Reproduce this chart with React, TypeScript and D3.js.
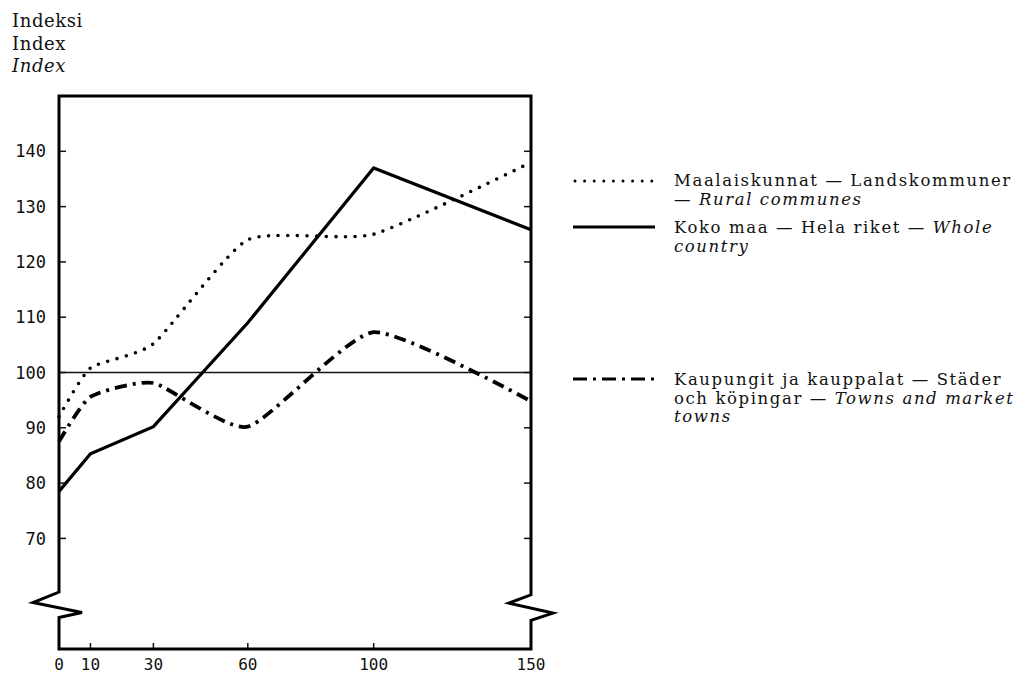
import React from 'react';
import * as d3 from 'd3';

// x: tick positions on the bottom axis, y: index values
const X_VALUES = [0, 10, 30, 60, 100, 150];
const Y_TICKS = [70, 80, 90, 100, 110, 120, 130, 140];
const RURAL = [92, 100.8, 105.2, 124, 125, 138];
const WHOLE = [78.5, 85.3, 90.2, 109, 137, 125.8];
const TOWNS = [87.5, 95.6, 98.1, 90.2, 107.3, 94.8];
const TITLE_LINES = ['Indeksi', 'Index', 'Index'];

type Seg = { t: string; i?: boolean };
const LEGEND_RURAL: Seg[][] = [
  [{ t: 'Maalaiskunnat — Landskommuner' }],
  [{ t: '— ' }, { t: 'Rural communes', i: true }],
];
const LEGEND_WHOLE: Seg[][] = [
  [{ t: 'Koko maa — Hela riket — ' }, { t: 'Whole', i: true }],
  [{ t: 'country', i: true }],
];
const LEGEND_TOWNS: Seg[][] = [
  [{ t: 'Kaupungit ja kauppalat — Städer' }],
  [{ t: 'och köpingar — ' }, { t: 'Towns and market', i: true }],
  [{ t: 'towns', i: true }],
];

const W = 1025;
const H = 674;
const SERIF = '"DejaVu Serif", serif';
const MONO = '"DejaVu Sans Mono", monospace';

export default function App() {
  const x = d3.scaleLinear().domain([0, 150]).range([59, 531]);
  const y = d3.scaleLinear().domain([50, 150]).range([649, 96]);

  const smooth = d3.line<number>()
    .x((_, i) => x(X_VALUES[i]))
    .y(d => y(d))
    .curve(d3.curveCardinal.tension(0.45));
  const straight = d3.line<number>()
    .x((_, i) => x(X_VALUES[i]))
    .y(d => y(d));

  // frame with axis-break zigzags
  const x0 = x(0), x1 = x(150);
  const p = d3.path();
  p.moveTo(x0, y(150));
  p.lineTo(x0, y(60.3));
  p.lineTo(x0 - 26, y(58.4));
  p.lineTo(x0 + 23, y(56.6));
  p.lineTo(x0, y(55.7));
  p.lineTo(x0, y(50));
  p.lineTo(x1, y(50));
  p.lineTo(x1, y(55.2));
  p.lineTo(x1 + 22, y(56.5));
  p.lineTo(x1 - 22, y(58.3));
  p.lineTo(x1, y(59.8));
  p.lineTo(x1, y(150));
  p.closePath();

  const legendX = 573;
  const textX = 674;
  const lineH = 18.5;

  const legendText = (lines: Seg[][], baseY: number) => (
    <text x={textX} y={baseY} fontFamily={SERIF} fontSize={16.5} letterSpacing={1.6} fill="#111">
      {lines.map((segs, li) => (
        <tspan key={li} x={textX} y={baseY + li * lineH}>
          {segs.map((s, si) => (
            <tspan key={si} fontStyle={s.i ? 'italic' : 'normal'}>{s.t}</tspan>
          ))}
        </tspan>
      ))}
    </text>
  );

  return (
    <svg width={W} height={H} style={{ position: 'absolute', left: 0, top: 0, background: '#fff' }}>
      <rect width={W} height={H} fill="#fff" />

      {/* title */}
      {TITLE_LINES.map((t, i) => (
        <text key={i} x={12} y={27 + i * 22.5} fontFamily={SERIF} fontSize={18}
          letterSpacing={0.6} fontStyle={i === 2 ? 'italic' : 'normal'} fill="#111">{t}</text>
      ))}

      {/* 100 reference line */}
      <line x1={x0} x2={x1} y1={y(100)} y2={y(100)} stroke="#111" strokeWidth={1.4} />

      {/* y ticks both sides */}
      {Y_TICKS.map(v => (
        <g key={v}>
          <line x1={x0} x2={x0 + 7} y1={y(v)} y2={y(v)} stroke="#111" strokeWidth={1.5} />
          <line x1={x1} x2={x1 - 7} y1={y(v)} y2={y(v)} stroke="#111" strokeWidth={1.5} />
          <text x={46} y={y(v)} dy="0.36em" textAnchor="end" fontFamily={MONO}
            fontSize={17} fill="#111">{v}</text>
        </g>
      ))}

      {/* x ticks and labels */}
      {X_VALUES.map(v => (
        <g key={v}>
          <line x1={x(v)} x2={x(v)} y1={y(50)} y2={y(50) - 6} stroke="#111" strokeWidth={1.5} />
          <text x={x(v)} y={670} textAnchor="middle" fontFamily={MONO} fontSize={16}
            fill="#111">{v}</text>
        </g>
      ))}

      {/* frame */}
      <path d={p.toString()} fill="none" stroke="#000" strokeWidth={3} strokeLinejoin="miter" />

      {/* series */}
      <path d={smooth(RURAL) || ''} fill="none" stroke="#000" strokeWidth={3.6}
        strokeDasharray="0 9.6" strokeLinecap="round" />
      <path d={straight(WHOLE) || ''} fill="none" stroke="#000" strokeWidth={3.2} />
      <path d={smooth(TOWNS) || ''} fill="none" stroke="#000" strokeWidth={3.8}
        strokeDasharray="12 6 3 6" />

      {/* legend */}
      <line x1={legendX + 2} x2={legendX + 82} y1={181} y2={181} stroke="#000" strokeWidth={3}
        strokeDasharray="0 9.6" strokeLinecap="round" />
      {legendText(LEGEND_RURAL, 186)}
      <line x1={legendX} x2={legendX + 82} y1={227} y2={227} stroke="#000" strokeWidth={3} />
      {legendText(LEGEND_WHOLE, 233)}
      <line x1={legendX} x2={legendX + 82} y1={379} y2={379} stroke="#000" strokeWidth={3.2}
        strokeDasharray="14 6 3 6" />
      {legendText(LEGEND_TOWNS, 385)}
    </svg>
  );
}
